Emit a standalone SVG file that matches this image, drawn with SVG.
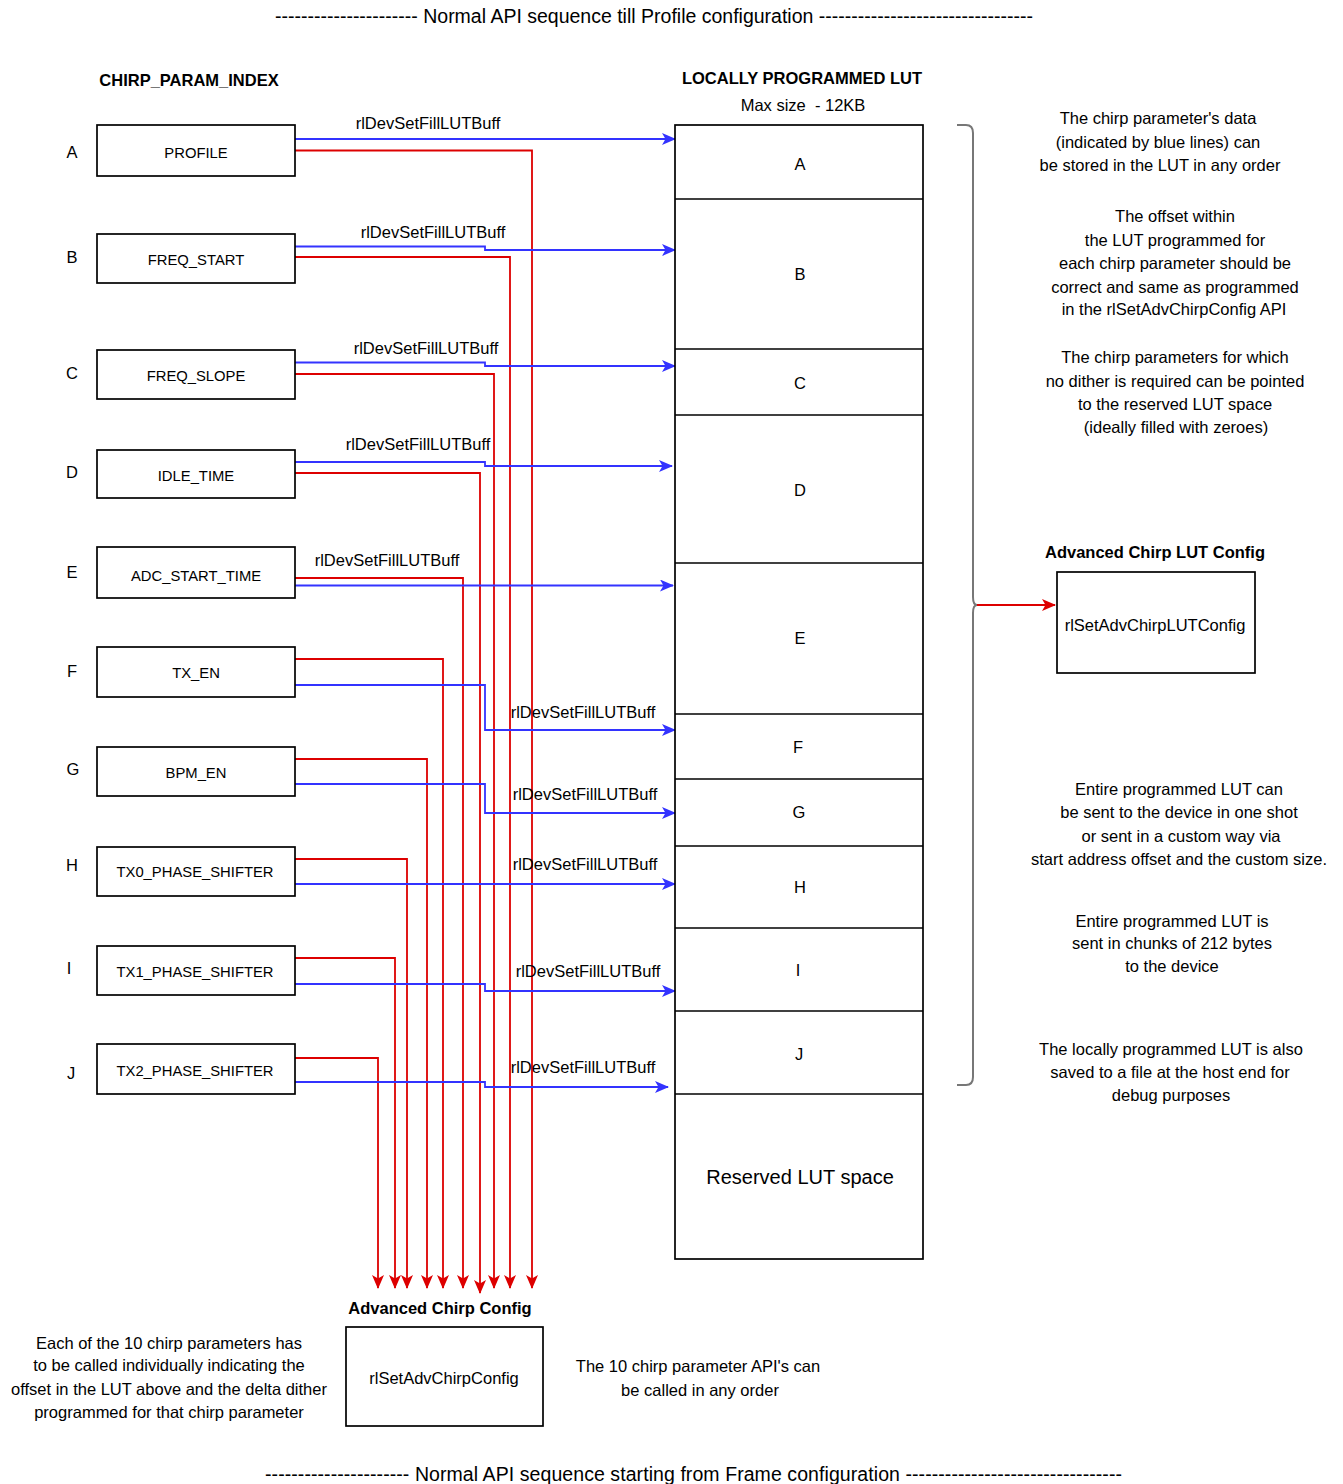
<svg xmlns="http://www.w3.org/2000/svg" width="1343" height="1484" viewBox="0 0 1343 1484">
<defs>
<style>
text{font-family:"Liberation Sans",Arial,sans-serif;fill:#000;}
.t{font-size:16.5px;text-anchor:middle;}
.b{font-size:16.5px;font-weight:bold;text-anchor:middle;}
.n{font-size:14.8px;text-anchor:middle;}
.l{font-size:16.5px;text-anchor:middle;}
.ttl{font-size:19.5px;white-space:pre;}
.box{fill:#fff;stroke:#000;stroke-width:1.7;}
.blue{fill:none;stroke:#3333ff;stroke-width:1.8;marker-end:url(#ab);}
.red{fill:none;stroke:#dd0000;stroke-width:1.8;marker-end:url(#ar);}
</style>
<marker id="ab" viewBox="0 0 14 12" refX="13" refY="6" markerWidth="14" markerHeight="12" markerUnits="userSpaceOnUse" orient="auto">
<path d="M0,0 L14,6 L0,12 L3.5,6 Z" fill="#3333ff"/>
</marker>
<marker id="ar" viewBox="0 0 14 12" refX="13" refY="6" markerWidth="14" markerHeight="12" markerUnits="userSpaceOnUse" orient="auto">
<path d="M0,0 L14,6 L0,12 L3.5,6 Z" fill="#dd0000"/>
</marker>
</defs>
<rect width="1343" height="1484" fill="#fff"/>

<text class="ttl" x="275" y="23" textLength="758" lengthAdjust="spacing">---------------------- Normal API sequence till Profile configuration ---------------------------------</text>
<text class="ttl" x="265" y="1481" textLength="857" lengthAdjust="spacing">---------------------- Normal API sequence starting from Frame configuration ---------------------------------</text>

<text class="b" x="189" y="86">CHIRP_PARAM_INDEX</text>
<text class="b" x="802" y="84">LOCALLY PROGRAMMED LUT</text>
<text class="t" x="803" y="111" style="white-space:pre">Max size  - 12KB</text>

<!-- index letters -->
<g id="letters">
<text class="l" x="72" y="158">A</text>
<text class="l" x="72" y="263">B</text>
<text class="l" x="72" y="379">C</text>
<text class="l" x="72" y="478">D</text>
<text class="l" x="72" y="578">E</text>
<text class="l" x="72" y="677">F</text>
<text class="l" x="73" y="775">G</text>
<text class="l" x="72" y="871">H</text>
<text class="l" x="69" y="974">I</text>
<text class="l" x="71" y="1079">J</text>
</g>

<!-- connectors -->
<g id="connectors">
<polyline class="red" points="295,150.5 532,150.5 532,1288"/>
<polyline class="red" points="295,257 510,257 510,1288"/>
<polyline class="red" points="295,374 494,374 494,1288"/>
<polyline class="red" points="295,473 480,473 480,1293"/>
<polyline class="red" points="295,578 463,578 463,1288"/>
<polyline class="red" points="295,659 443,659 443,1288"/>
<polyline class="red" points="295,759 427,759 427,1288"/>
<polyline class="red" points="295,859 407,859 407,1288"/>
<polyline class="red" points="295,958 395,958 395,1288"/>
<polyline class="red" points="295,1058 378,1058 378,1288"/>

<polyline class="blue" points="295,139 675,139"/>
<polyline class="blue" points="295,246.5 485,246.5 485,250 675,250"/>
<polyline class="blue" points="295,362.5 485,362.5 485,366 675,366"/>
<polyline class="blue" points="295,462 485,462 485,466 672,466"/>
<polyline class="blue" points="295,585.5 673,585.5"/>
<polyline class="blue" points="295,685 485,685 485,730 675,730"/>
<polyline class="blue" points="295,784 485,784 485,813 675,813"/>
<polyline class="blue" points="295,884 675,884"/>
<polyline class="blue" points="295,984 485,984 485,991 675,991"/>
<polyline class="blue" points="295,1082 485,1082 485,1087 668,1087"/>

<polyline class="red" points="977,605 1055,605"/>
<path d="M957,125 L966,125 Q973,125 973,133 L973,597 Q973,605 977,605 Q973,605 973,613 L973,1077 Q973,1085 966,1085 L957,1085" fill="none" stroke="#777" stroke-width="2"/>

<g class="t">
<text x="428" y="129">rlDevSetFillLUTBuff</text>
<text x="433" y="238">rlDevSetFillLUTBuff</text>
<text x="426" y="354">rlDevSetFillLUTBuff</text>
<text x="418" y="450">rlDevSetFillLUTBuff</text>
<text x="387" y="566">rlDevSetFillLUTBuff</text>
<text x="583" y="718">rlDevSetFillLUTBuff</text>
<text x="585" y="800">rlDevSetFillLUTBuff</text>
<text x="585" y="870">rlDevSetFillLUTBuff</text>
<text x="588" y="977">rlDevSetFillLUTBuff</text>
<text x="583" y="1073">rlDevSetFillLUTBuff</text>
</g>
</g>

<!-- parameter nodes -->
<g id="n-profile"><rect class="box" x="97" y="125" width="198" height="51"/><text class="n" x="196" y="158">PROFILE</text></g>
<g id="n-freq-start"><rect class="box" x="97" y="234" width="198" height="49"/><text class="n" x="196" y="265">FREQ_START</text></g>
<g id="n-freq-slope"><rect class="box" x="97" y="350" width="198" height="49"/><text class="n" x="196" y="381">FREQ_SLOPE</text></g>
<g id="n-idle-time"><rect class="box" x="97" y="450" width="198" height="48"/><text class="n" x="196" y="481">IDLE_TIME</text></g>
<g id="n-adc-start"><rect class="box" x="97" y="547" width="198" height="51"/><text class="n" x="196" y="581">ADC_START_TIME</text></g>
<g id="n-tx-en"><rect class="box" x="97" y="647" width="198" height="50"/><text class="n" x="196" y="678">TX_EN</text></g>
<g id="n-bpm-en"><rect class="box" x="97" y="747" width="198" height="49"/><text class="n" x="196" y="778">BPM_EN</text></g>
<g id="n-tx0"><rect class="box" x="97" y="847" width="198" height="49"/><text class="n" x="195" y="877">TX0_PHASE_SHIFTER</text></g>
<g id="n-tx1"><rect class="box" x="97" y="946" width="198" height="49"/><text class="n" x="195" y="977">TX1_PHASE_SHIFTER</text></g>
<g id="n-tx2"><rect class="box" x="97" y="1044" width="198" height="50"/><text class="n" x="195" y="1076">TX2_PHASE_SHIFTER</text></g>

<!-- LUT -->
<g id="lut">
<rect class="box" x="675" y="125" width="248" height="1134"/>
<g stroke="#000" stroke-width="1.7">
<line x1="675" y1="199" x2="923" y2="199"/>
<line x1="675" y1="349" x2="923" y2="349"/>
<line x1="675" y1="415" x2="923" y2="415"/>
<line x1="675" y1="563" x2="923" y2="563"/>
<line x1="675" y1="714" x2="923" y2="714"/>
<line x1="675" y1="779" x2="923" y2="779"/>
<line x1="675" y1="846" x2="923" y2="846"/>
<line x1="675" y1="928" x2="923" y2="928"/>
<line x1="675" y1="1011" x2="923" y2="1011"/>
<line x1="675" y1="1094" x2="923" y2="1094"/>
</g>
<g class="l">
<text x="800" y="170">A</text>
<text x="800" y="280">B</text>
<text x="800" y="389">C</text>
<text x="800" y="496">D</text>
<text x="800" y="644">E</text>
<text x="798" y="753">F</text>
<text x="799" y="818">G</text>
<text x="800" y="893">H</text>
<text x="798" y="976">I</text>
<text x="799" y="1060">J</text>
</g>
<text x="800" y="1184" style="font-size:20px;text-anchor:middle">Reserved LUT space</text>
</g>

<!-- Advanced chirp LUT config -->
<g id="n-lut-config">
<text class="b" x="1155" y="558">Advanced Chirp LUT Config</text>
<rect class="box" x="1057" y="572" width="198" height="101"/>
<text class="t" x="1155" y="631">rlSetAdvChirpLUTConfig</text>
</g>

<!-- Advanced chirp config -->
<g id="n-chirp-config">
<text class="b" x="440" y="1314">Advanced Chirp Config</text>
<rect class="box" x="346" y="1327" width="197" height="99"/>
<text class="t" x="444" y="1384">rlSetAdvChirpConfig</text>
</g>

<!-- notes -->
<g class="t">
<text x="1158" y="124">The chirp parameter's data</text>
<text x="1158" y="148">(indicated by blue lines) can</text>
<text x="1160" y="171">be stored in the LUT in any order</text>

<text x="1175" y="222">The offset within</text>
<text x="1175" y="246">the LUT programmed for</text>
<text x="1175" y="269">each chirp parameter should be</text>
<text x="1175" y="293">correct and same as programmed</text>
<text x="1174" y="315">in the rlSetAdvChirpConfig API</text>

<text x="1175" y="363">The chirp parameters for which</text>
<text x="1175" y="387">no dither is required can be pointed</text>
<text x="1175" y="410">to the reserved LUT space</text>
<text x="1176" y="433">(ideally filled with zeroes)</text>

<text x="1179" y="795">Entire programmed LUT can</text>
<text x="1179" y="818">be sent to the device in one shot</text>
<text x="1181" y="842">or sent in a custom way via</text>
<text x="1179" y="865">start address offset and the custom size.</text>

<text x="1172" y="927">Entire programmed LUT is</text>
<text x="1172" y="949">sent in chunks of 212 bytes</text>
<text x="1172" y="972">to the device</text>

<text x="1171" y="1055">The locally programmed LUT is also</text>
<text x="1170" y="1078">saved to a file at the host end for</text>
<text x="1171" y="1101">debug purposes</text>

<text x="169" y="1349">Each of the 10 chirp parameters has</text>
<text x="169" y="1371">to be called individually indicating the</text>
<text x="169" y="1395">offset in the LUT above and the delta dither</text>
<text x="169" y="1418">programmed for that chirp parameter</text>

<text x="698" y="1372">The 10 chirp parameter API's can</text>
<text x="700" y="1396">be called in any order</text>
</g>
</svg>
